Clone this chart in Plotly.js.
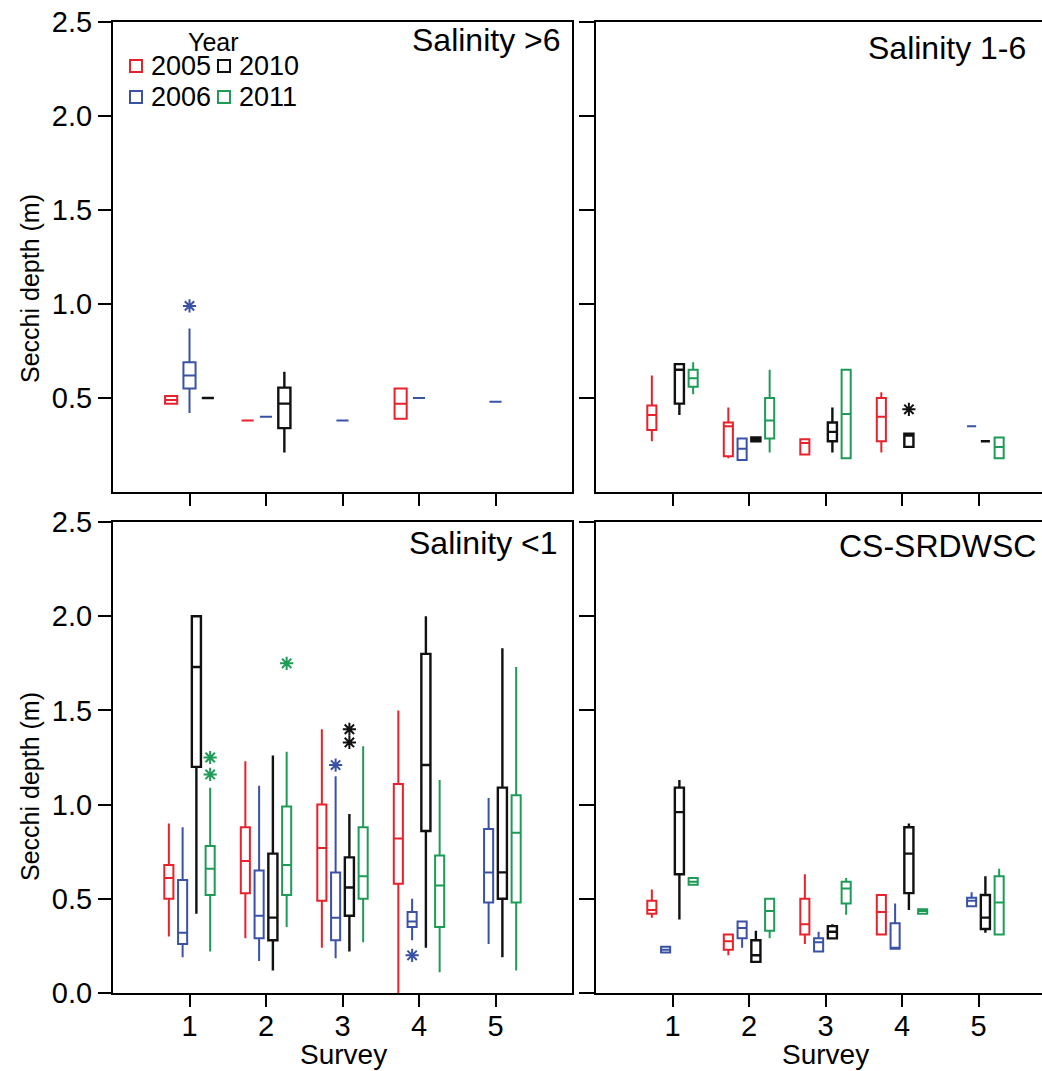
<!DOCTYPE html>
<html><head><meta charset="utf-8">
<script src="https://cdn.plot.ly/plotly-3.0.1.min.js"></script>
<style>html,body{margin:0;padding:0;background:#fff}</style>
</head><body>
<div id="chart" style="width:1042px;height:1071px"></div>
<script>
// ---------------- DATA ----------------
// Each row: [survey, lowerWhisker, q1, median, q3, upperWhisker, [outliers]]
const surveys = [1, 2, 3, 4, 5];
const years = ['2005', '2006', '2010', '2011'];
const yearColors = ['#e8212b', '#3a52a6', '#111111', '#1e9b57'];
const panelTitles = ['Salinity >6', 'Salinity 1-6', 'Salinity <1', 'CS-SRDWSC'];
const yTicksTop = [0.5, 1.0, 1.5, 2.0, 2.5];
const yTicksBottom = [0.0, 0.5, 1.0, 1.5, 2.0, 2.5];

// Salinity >6
const sal6_2005 = [[1,0.47,0.47,0.49,0.51,0.51,[]],[2,0.38,0.38,0.38,0.38,0.38,[]],[4,0.39,0.39,0.47,0.55,0.55,[]]];
const sal6_2006 = [[1,0.42,0.55,0.62,0.69,0.87,[0.99]],[2,0.40,0.40,0.40,0.40,0.40,[]],[3,0.38,0.38,0.38,0.38,0.38,[]],[4,0.50,0.50,0.50,0.50,0.50,[]],[5,0.48,0.48,0.48,0.48,0.48,[]]];
const sal6_2010 = [[1,0.50,0.50,0.50,0.50,0.50,[]],[2,0.21,0.34,0.47,0.555,0.64,[]]];
const sal6_2011 = [];

// Salinity 1-6
const sal16_2005 = [[1,0.27,0.33,0.41,0.46,0.62,[]],[2,0.18,0.19,0.35,0.37,0.45,[]],[3,0.20,0.20,0.26,0.28,0.28,[]],[4,0.21,0.27,0.40,0.50,0.53,[]]];
const sal16_2006 = [[2,0.17,0.17,0.23,0.285,0.285,[]],[5,0.35,0.35,0.35,0.35,0.35,[]]];
const sal16_2010 = [[1,0.41,0.47,0.65,0.68,0.68,[]],[2,0.27,0.27,0.28,0.29,0.29,[]],[3,0.21,0.27,0.32,0.37,0.45,[]],[4,0.24,0.24,0.30,0.31,0.31,[0.44]],[5,0.27,0.27,0.27,0.27,0.27,[]]];
const sal16_2011 = [[1,0.52,0.56,0.605,0.65,0.69,[]],[2,0.21,0.285,0.38,0.50,0.65,[]],[3,0.18,0.18,0.415,0.65,0.65,[]],[5,0.18,0.18,0.24,0.29,0.29,[]]];

// Salinity <1
const sal1_2005 = [[1,0.30,0.50,0.61,0.68,0.90,[]],[2,0.29,0.53,0.70,0.88,1.23,[]],[3,0.24,0.49,0.77,1.00,1.40,[]],[4,0.00,0.58,0.82,1.11,1.50,[]]];
const sal1_2006 = [[1,0.19,0.26,0.32,0.60,0.88,[]],[2,0.17,0.29,0.41,0.65,1.10,[]],[3,0.185,0.28,0.40,0.64,1.15,[1.21]],[4,0.28,0.35,0.38,0.43,0.50,[0.20]],[5,0.26,0.48,0.64,0.87,1.035,[]]];
const sal1_2010 = [[1,0.42,1.20,1.73,2.00,2.00,[]],[2,0.12,0.28,0.40,0.74,1.26,[]],[3,0.22,0.41,0.56,0.72,0.95,[1.40,1.33]],[4,0.24,0.86,1.21,1.80,2.00,[]],[5,0.19,0.50,0.64,1.09,1.83,[]]];
const sal1_2011 = [[1,0.22,0.52,0.66,0.78,1.09,[1.25,1.16]],[2,0.35,0.52,0.68,0.99,1.28,[1.75]],[3,0.27,0.50,0.62,0.88,1.31,[]],[4,0.11,0.35,0.57,0.73,1.13,[]],[5,0.12,0.48,0.85,1.05,1.73,[]]];

// CS-SRDWSC
const cs_2005 = [[1,0.40,0.42,0.44,0.49,0.55,[]],[2,0.20,0.23,0.275,0.31,0.31,[]],[3,0.26,0.31,0.365,0.50,0.63,[]],[4,0.31,0.31,0.43,0.52,0.52,[]]];
const cs_2006 = [[1,0.215,0.215,0.23,0.245,0.245,[]],[2,0.24,0.29,0.345,0.38,0.38,[]],[3,0.22,0.22,0.27,0.29,0.325,[]],[4,0.235,0.235,0.24,0.37,0.475,[]],[5,0.46,0.46,0.49,0.505,0.535,[]]];
const cs_2010 = [[1,0.39,0.63,0.96,1.09,1.13,[]],[2,0.165,0.165,0.20,0.28,0.33,[]],[3,0.29,0.29,0.325,0.355,0.365,[]],[4,0.44,0.53,0.74,0.88,0.90,[]],[5,0.32,0.34,0.40,0.52,0.62,[]]];
const cs_2011 = [[1,0.575,0.575,0.59,0.61,0.61,[]],[2,0.29,0.33,0.435,0.50,0.50,[]],[3,0.415,0.475,0.555,0.59,0.61,[]],[4,0.42,0.42,0.435,0.445,0.445,[]],[5,0.31,0.31,0.48,0.62,0.66,[]]];

const panels = [
  [sal6_2005, sal6_2006, sal6_2010, sal6_2011],
  [sal16_2005, sal16_2006, sal16_2010, sal16_2011],
  [sal1_2005, sal1_2006, sal1_2010, sal1_2011],
  [cs_2005, cs_2006, cs_2010, cs_2011]
];

// ---------------- BUILD ----------------
const W = 1042, H = 1071;
const px = v => v / W;
const py = v => 1 - v / H;
const FONT = 'Liberation Sans, Arial, sans-serif';

const traces = [];
panels.forEach((series, p) => {
  const sfx = p === 0 ? '' : String(p + 1);
  series.forEach((rows, k) => {
    if (!rows.length) return;
    const c = yearColors[k];
    traces.push({
      type: 'box', orientation: 'v', name: years[k],
      xaxis: 'x' + sfx, yaxis: 'y' + sfx,
      alignmentgroup: 'panel' + p, offsetgroup: years[k],
      x: rows.map(r => r[0]),
      lowerfence: rows.map(r => r[1]),
      q1: rows.map(r => r[2]),
      median: rows.map(r => r[3]),
      q3: rows.map(r => r[4]),
      upperfence: rows.map(r => r[5]),
      // sample points per box (outliers only); empty boxes get a null placeholder
      y: rows.map(r => r[6].length ? r[6] : [null]),
      boxpoints: 'outliers', pointpos: 0, jitter: 0,
      whiskerwidth: 0,
      line: {color: c, width: k === 2 ? 2.4 : 2},
      fillcolor: 'rgba(0,0,0,0)',
      marker: {symbol: 'asterisk-open', size: 11, color: c, line: {color: c, width: 2}},
      showlegend: false, hoverinfo: 'skip'
    });
  });
});

const common = {showgrid: false, zeroline: false, showline: true, linecolor: '#000', linewidth: 2,
  ticks: 'outside', tickwidth: 2, tickcolor: '#000', tickfont: {family: FONT, size: 29, color: '#000'}};
const leftDom = [px(113), px(572)], rightDom = [px(596), 1];
const topDom = [py(492), py(22)], botDom = [py(993), py(522)];
const xr = [0, 6], xrR = [0, (W - 596) / 76.5];

const layout = {
  width: W, height: H, margin: {l: 0, r: 0, t: 0, b: 0},
  paper_bgcolor: '#fff', plot_bgcolor: '#fff', showlegend: false,
  boxmode: 'group', boxgap: 0.28, boxgroupgap: 0.34,
  font: {family: FONT, color: '#000'},
  xaxis:  Object.assign({}, common, {domain: leftDom, range: xr, anchor: 'y', mirror: true, tickvals: surveys, showticklabels: false, ticklen: 12}),
  yaxis:  Object.assign({}, common, {domain: topDom, range: [0, 2.5], anchor: 'x', mirror: true, tickvals: yTicksTop, tickformat: '.1f', ticklen: 13}),
  xaxis2: Object.assign({}, common, {domain: rightDom, range: xrR, anchor: 'y2', mirror: true, tickvals: surveys, showticklabels: false, ticklen: 12}),
  yaxis2: Object.assign({}, common, {domain: topDom, range: [0, 2.5], anchor: 'x2', mirror: false, tickvals: yTicksTop, showticklabels: false, ticklen: 15}),
  xaxis3: Object.assign({}, common, {domain: leftDom, range: xr, anchor: 'y3', mirror: true, tickvals: surveys, ticklen: 12, ticklabelstandoff: -6}),
  yaxis3: Object.assign({}, common, {domain: botDom, range: [0, 2.5], anchor: 'x3', mirror: true, tickvals: yTicksBottom, tickformat: '.1f', ticklen: 13}),
  xaxis4: Object.assign({}, common, {domain: rightDom, range: xrR, anchor: 'y4', mirror: true, tickvals: surveys, ticklen: 12, ticklabelstandoff: -6}),
  yaxis4: Object.assign({}, common, {domain: botDom, range: [0, 2.5], anchor: 'x4', mirror: false, tickvals: yTicksBottom, showticklabels: false, ticklen: 15}),
  annotations: [], shapes: []
};

// panel titles
const titlePos = [[563, 40], [1028, 48], [560, 543], [1038, 546]];
panelTitles.forEach((t, i) => {
  layout.annotations.push({text: t, xref: 'paper', yref: 'paper', x: px(titlePos[i][0]), y: py(titlePos[i][1]),
    xanchor: 'right', yanchor: 'middle', showarrow: false, font: {family: FONT, size: 32, color: '#000'}});
});
// axis titles
[[30, 289], [30, 787]].forEach(p => {
  layout.annotations.push({text: 'Secchi depth (m)', textangle: -90, xref: 'paper', yref: 'paper',
    x: px(p[0]), y: py(p[1]), xanchor: 'center', yanchor: 'middle', showarrow: false,
    font: {family: FONT, size: 25, color: '#000'}});
});
[343, 825].forEach(x => {
  layout.annotations.push({text: 'Survey', xref: 'paper', yref: 'paper', x: px(x), y: 0,
    xanchor: 'center', yanchor: 'bottom', showarrow: false, borderpad: 0,
    font: {family: FONT, size: 28, color: '#000'}});
});
// legend (Year)
layout.annotations.push({text: 'Year', xref: 'paper', yref: 'paper', x: px(213), y: py(42),
  xanchor: 'center', yanchor: 'middle', showarrow: false, font: {family: FONT, size: 25, color: '#000'}});
const legPos = [[130, 66], [130, 97], [218, 66], [218, 97]];
years.forEach((yr, k) => {
  const [lx, ly] = legPos[k];
  layout.shapes.push({type: 'rect', xref: 'paper', yref: 'paper', x0: px(lx), x1: px(lx + 12),
    y0: py(ly + 6), y1: py(ly - 6), line: {color: yearColors[k], width: 2}, fillcolor: 'rgba(0,0,0,0)'});
  layout.annotations.push({text: yr, xref: 'paper', yref: 'paper', x: px(lx + 19), y: py(ly),
    xanchor: 'left', yanchor: 'middle', showarrow: false, font: {family: FONT, size: 27, color: '#000'}});
});

Plotly.newPlot('chart', traces, layout, {staticPlot: true});
</script>
</body></html>
